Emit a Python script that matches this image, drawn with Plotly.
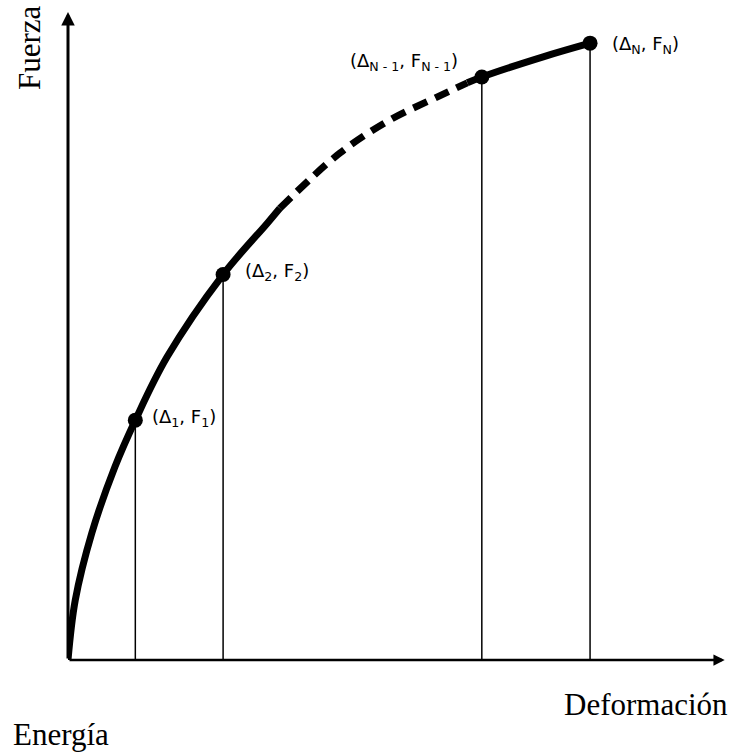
import plotly.graph_objects as go

# Curve (deformation, force)
curve_x = [0.00, 0.11, 0.36, 0.71, 1.02, 1.50, 2.35, 3.02, 3.21, 4.12, 4.88, 5.59, 6.05, 6.27, 7.20, 7.91]
curve_y = [0.00, 0.92, 1.95, 2.97, 3.69, 4.66, 5.93, 6.72, 6.95, 7.80, 8.31, 8.66, 8.88, 8.97, 9.28, 9.49]
seg_solid1 = (0, 9)
seg_dash = (8, 13)
seg_solid2 = (12, 16)

# Marked points
pt_x = [1.02, 2.35, 6.27, 7.91]
pt_y = [3.69, 5.93, 8.97, 9.49]
pt_labels = ["(Δ<sub>1</sub>, F<sub>1</sub>)",
             "(Δ<sub>2</sub>, F<sub>2</sub>)",
             "(Δ<sub>N - 1</sub>, F<sub>N - 1</sub>)",
             "(Δ<sub>N</sub>, F<sub>N</sub>)"]
label_dx = [0.22, 0.30, -0.33, 0.30]
label_dy = [0.03, 0.04, 0.23, -0.03]
label_anchor = ["left", "left", "right", "left"]

axis_x_max = 9.95
axis_y_max = 9.97

fig = go.Figure()

for (a, b), dash in [(seg_solid1, "solid"), (seg_dash, "15px,9px"), (seg_solid2, "solid")]:
    fig.add_trace(go.Scatter(
        x=curve_x[a:b], y=curve_y[a:b], mode="lines",
        line=dict(color="black", width=7, shape="spline", smoothing=1.0, dash=dash),
        hoverinfo="skip", showlegend=False))

# vertical drop lines
for x, y in zip(pt_x, pt_y):
    fig.add_trace(go.Scatter(x=[x, x], y=[0, y], mode="lines",
                             line=dict(color="black", width=1.5),
                             hoverinfo="skip", showlegend=False))

fig.add_trace(go.Scatter(x=pt_x, y=pt_y, mode="markers",
                         marker=dict(color="black", size=15),
                         hoverinfo="skip", showlegend=False, cliponaxis=False))

annotations = []
# axes with arrows
annotations.append(dict(x=0, y=axis_y_max, ax=0, ay=0, xref="x", yref="y",
                        axref="x", ayref="y", showarrow=True, arrowhead=2,
                        arrowwidth=3, arrowsize=0.9, arrowcolor="black", text=""))
annotations.append(dict(x=axis_x_max, y=0, ax=0, ay=0, xref="x", yref="y",
                        axref="x", ayref="y", showarrow=True, arrowhead=2,
                        arrowwidth=2.5, arrowsize=0.9, arrowcolor="black", text=""))

for x, y, t, dx, dy, anc in zip(pt_x, pt_y, pt_labels, label_dx, label_dy, label_anchor):
    annotations.append(dict(x=x + dx, y=y + dy, xref="x", yref="y", text=t,
                            showarrow=False, xanchor=anc, yanchor="middle",
                            font=dict(family="DejaVu Sans", size=18, color="black")))

W, H = 735, 756
L, R, T, B = 68, 7, 10, 96
pw, ph = W - L - R, H - T - B

def px(xp):
    return (xp - L) / pw

def py(yp):
    return (H - B - yp) / ph

serif = dict(family="Liberation Serif", size=31, color="black")
annotations.append(dict(x=px(30), y=py(48), xref="paper", yref="paper", text="Fuerza",
                        textangle=-90, showarrow=False, xanchor="center", yanchor="middle",
                        font=serif))
annotations.append(dict(x=px(730), y=py(704), xref="paper", yref="paper", text="Deformación",
                        showarrow=False, xanchor="right", yanchor="middle", font=serif))
annotations.append(dict(x=px(11), y=py(734), xref="paper", yref="paper", text="Energía",
                        showarrow=False, xanchor="left", yanchor="middle", font=serif))

fig.update_layout(
    width=W, height=H,
    margin=dict(l=L, r=R, t=T, b=B),
    paper_bgcolor="white", plot_bgcolor="white",
    xaxis=dict(range=[0, 10], visible=False, showgrid=False, zeroline=False),
    yaxis=dict(range=[0, 10], visible=False, showgrid=False, zeroline=False),
    annotations=annotations,
)

fig.write_html("out.html", config={"displayModeBar": False},
               post_script="document.body.style.margin='0';document.body.style.padding='0';")
